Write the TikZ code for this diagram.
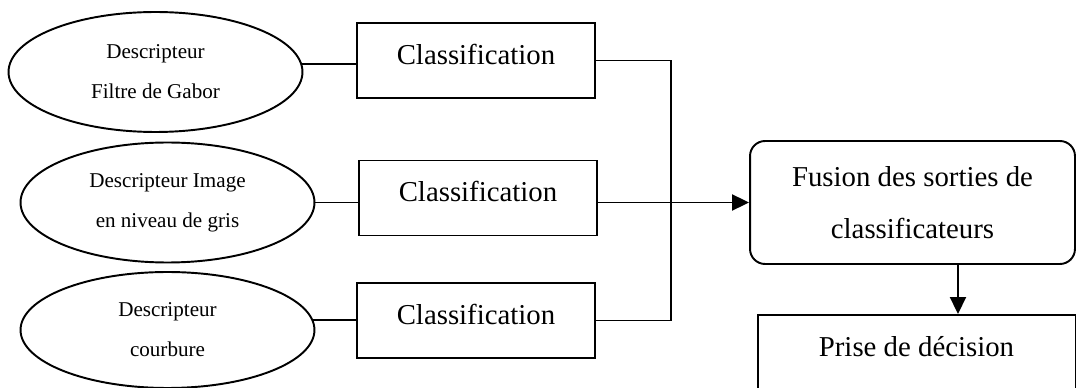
\documentclass[tikz,border=0pt]{standalone}
\usepackage{fontspec}
\setmainfont{Liberation Serif}
\usepackage{tikz}
\usetikzlibrary{shapes.geometric,arrows.meta}

\begin{document}
\begin{tikzpicture}[x=0.02cm,y=-0.02cm,line width=1.1pt,
        desc/.style={ellipse,draw,minimum width=5.88cm,minimum height=2.4cm,inner sep=0pt,
            align=center,font=\fontsize{12}{22.7}\selectfont},
        classbox/.style={rectangle,draw,minimum width=4.76cm,minimum height=1.5cm,inner sep=0pt,
            text height=12pt,text depth=8pt,font=\fontsize{16.4}{20}\selectfont},
        fusionbox/.style={rectangle,draw,rounded corners=0.3cm,minimum width=6.5cm,minimum height=2.46cm,
            align=center,font=\fontsize{16.4}{29.5}\selectfont},
        arr/.style={-{Triangle[length=0.34cm,width=0.32cm]}}]
        \useasboundingbox (0,0) rectangle (1076,388);
        \clip (0,0) rectangle (1076,388);
        \node[desc] (e1) at (155.5,72) {Descripteur\\Filtre de Gabor};
        \node[desc] (e2) at (167.5,202.5) {Descripteur Image\\en niveau de gris};
        \node[desc,minimum height=2.32cm] (e3) at (167.5,330) {Descripteur\\courbure};
        \node[classbox] (c1) at (476,60.5) {Classification};
        \node[classbox] (c2) at (478,198) {Classification};
        \node[classbox] (c3) at (476,320.5) {Classification};
        \node[fusionbox] (fusion) at (912.5,202.5) {Fusion des sorties de\\classificateurs};
        \node[classbox,minimum width=6.36cm] (decision) at (916.5,352.5) {Prise de décision};
        \coordinate (bus) at (671,202);
        \draw (e1.3) -- (e1.3 -| c1.west);
        \draw (e2.east) -- (e2.east -| c2.west);
        \draw (e3.4) -- (e3.4 -| c3.west);
        \draw (c1.east) -| (bus |- c3.east) -- (c3.east);
        \draw[arr] (c2.east |- fusion.west) -- (fusion.west);
        \draw[arr] ([xshift=0.91cm]fusion.south) -- ([xshift=0.91cm]fusion.south |- decision.north);
    \end{tikzpicture}
\end{document}
